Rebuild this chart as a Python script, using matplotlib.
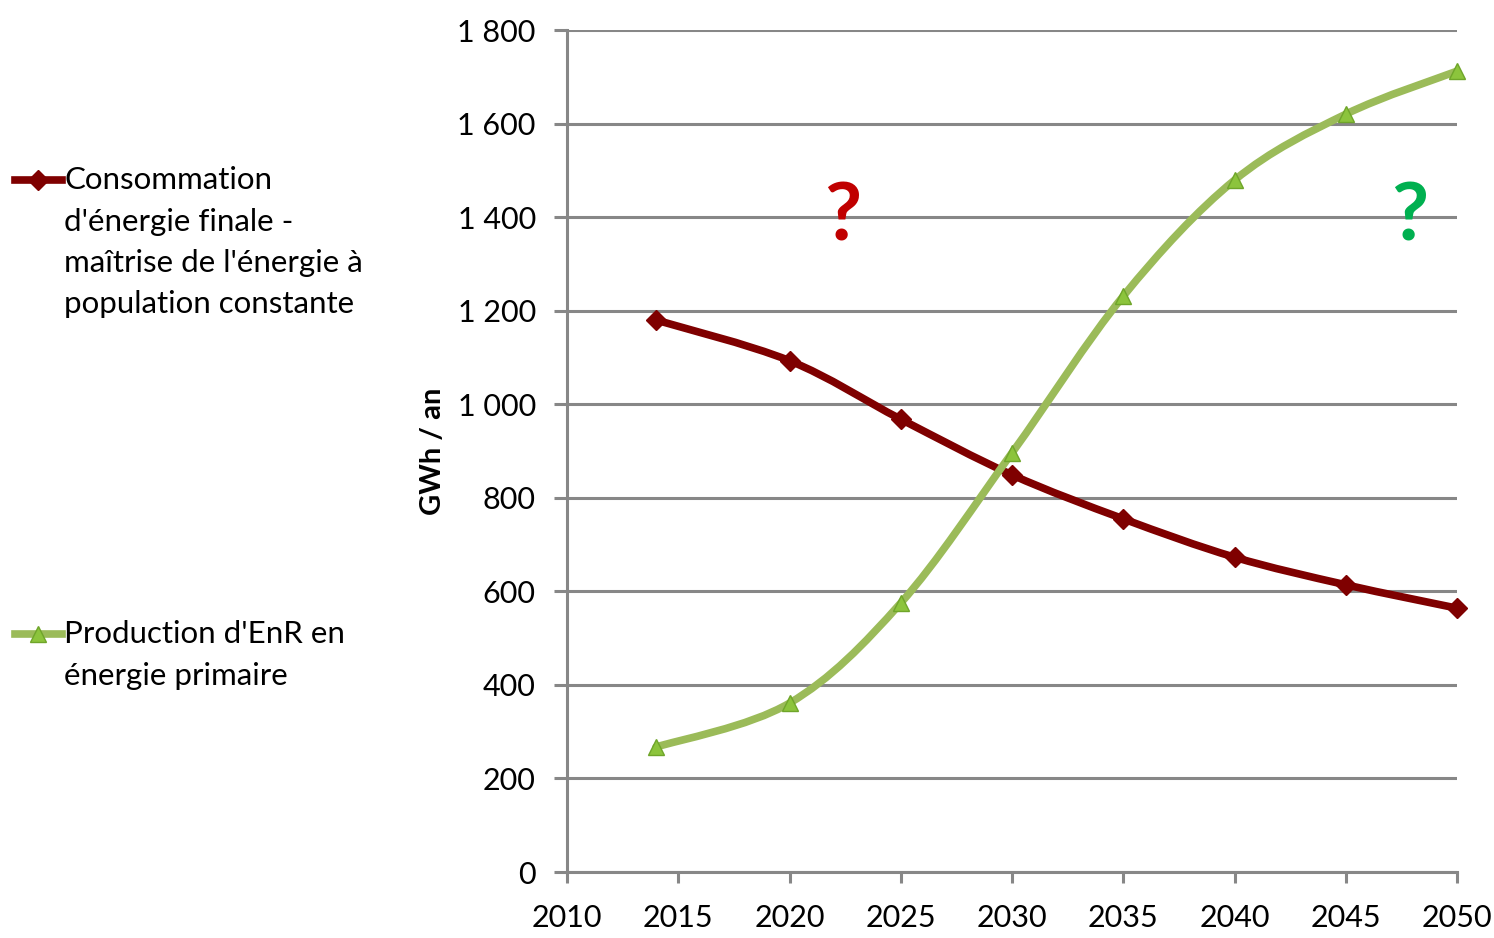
import numpy as np
import matplotlib.pyplot as plt
from matplotlib.path import Path
from matplotlib.patches import PathPatch
from matplotlib.lines import Line2D
from matplotlib.ticker import FuncFormatter

plt.rcParams['font.family'] = ['Lato', 'DejaVu Sans']

# data
years = [2014, 2020, 2025, 2030, 2035, 2040, 2045, 2050]
conso = [1180, 1093, 968, 849, 755, 673, 614, 564]
enr = [267, 361, 575, 896, 1231, 1479, 1620, 1712]

label_conso = ["Consommation", "d'énergie finale -",
               "maîtrise de l'énergie à", "population constante"]
label_enr = ["Production d'EnR en", "énergie primaire"]

red = '#7f0000'
green = '#9bbb59'
tri_face = '#8cc43c'
tri_edge = '#6fa52a'
grid_grey = '#878787'

W, H = 1494, 938


def smooth_path(x, y):
    # Catmull-Rom style bezier through the points (like Excel smoothed lines)
    pts = np.column_stack([x, y]).astype(float)
    n = len(pts)
    verts = [pts[0]]
    codes = [Path.MOVETO]
    for i in range(n - 1):
        p0 = pts[i - 1] if i > 0 else pts[i]
        p1 = pts[i]
        p2 = pts[i + 1]
        p3 = pts[i + 2] if i + 2 < n else pts[i + 1]
        c1 = p1 + (p2 - p0) / 6.0
        c2 = p2 - (p3 - p1) / 6.0
        verts += [c1, c2, p2]
        codes += [Path.CURVE4] * 3
    return Path(verts, codes)


fig = plt.figure(figsize=(W / 100, H / 100), dpi=100)
ax = fig.add_axes([567 / W, 1 - 872 / H, (1457 - 567) / W, (872 - 30) / H])

ax.add_patch(PathPatch(smooth_path(years, conso), facecolor='none',
                       edgecolor=red, lw=5.5, capstyle='round', zorder=3))
ax.add_patch(PathPatch(smooth_path(years, enr), facecolor='none',
                       edgecolor=green, lw=5.5, capstyle='round', zorder=3))
ax.plot(years, conso, ls='none', marker='D', ms=10, color=red, zorder=4,
        clip_on=False)
ax.plot(years, enr, ls='none', marker='^', ms=12, color=tri_face,
        markeredgecolor=tri_edge, markeredgewidth=1, zorder=4, clip_on=False)

ax.set_xlim(2010, 2050)
ax.set_ylim(0, 1800)
ax.set_xticks(range(2010, 2051, 5))
ax.set_yticks(range(0, 1801, 200))
ax.yaxis.set_major_formatter(FuncFormatter(lambda v, p: f'{int(v):,}'.replace(',', ' ')))
ax.grid(axis='y', color=grid_grey, lw=2.2)
ax.set_axisbelow(True)
for s in ['top', 'right']:
    ax.spines[s].set_visible(False)
for s in ['left', 'bottom']:
    ax.spines[s].set_color(grid_grey)
    ax.spines[s].set_linewidth(2.2)
ax.tick_params(axis='y', direction='out', length=9.5, width=2.2, color=grid_grey,
               labelsize=22, pad=13)
ax.tick_params(axis='x', direction='out', length=8, width=2.2, color=grid_grey,
               labelsize=22, pad=15)
ax.set_ylabel('GWh / an', fontsize=21, fontweight='bold', labelpad=8)

ax.text(2022.4, 1400, '?', color='#c00000', fontsize=58, fontweight='bold',
        ha='center', va='center')
ax.text(2047.85, 1400, '?', color='#00b050', fontsize=58, fontweight='bold',
        ha='center', va='center')


# legend drawn by hand on the left (handle aligned with first text line)
def legend_entry(y_px, lines, color, marker, ms, mfc, mec):
    y = 1 - y_px / H
    fig.add_artist(Line2D([15 / W, 38 / W, 62 / W], [y, y, y], color=color,
                          lw=5.5, marker=marker, ms=ms, markevery=[1],
                          markerfacecolor=mfc, markeredgecolor=mec,
                          transform=fig.transFigure))
    for k, txt in enumerate(lines):
        fig.text(64 / W, 1 - (y_px + 41.5 * k) / H, txt, fontsize=22.5,
                 ha='left', va='center')


legend_entry(180, label_conso, red, 'D', 10, red, red)
legend_entry(634, label_enr, green, '^', 12, tri_face, tri_edge)

fig.savefig('out.png', dpi=100)
